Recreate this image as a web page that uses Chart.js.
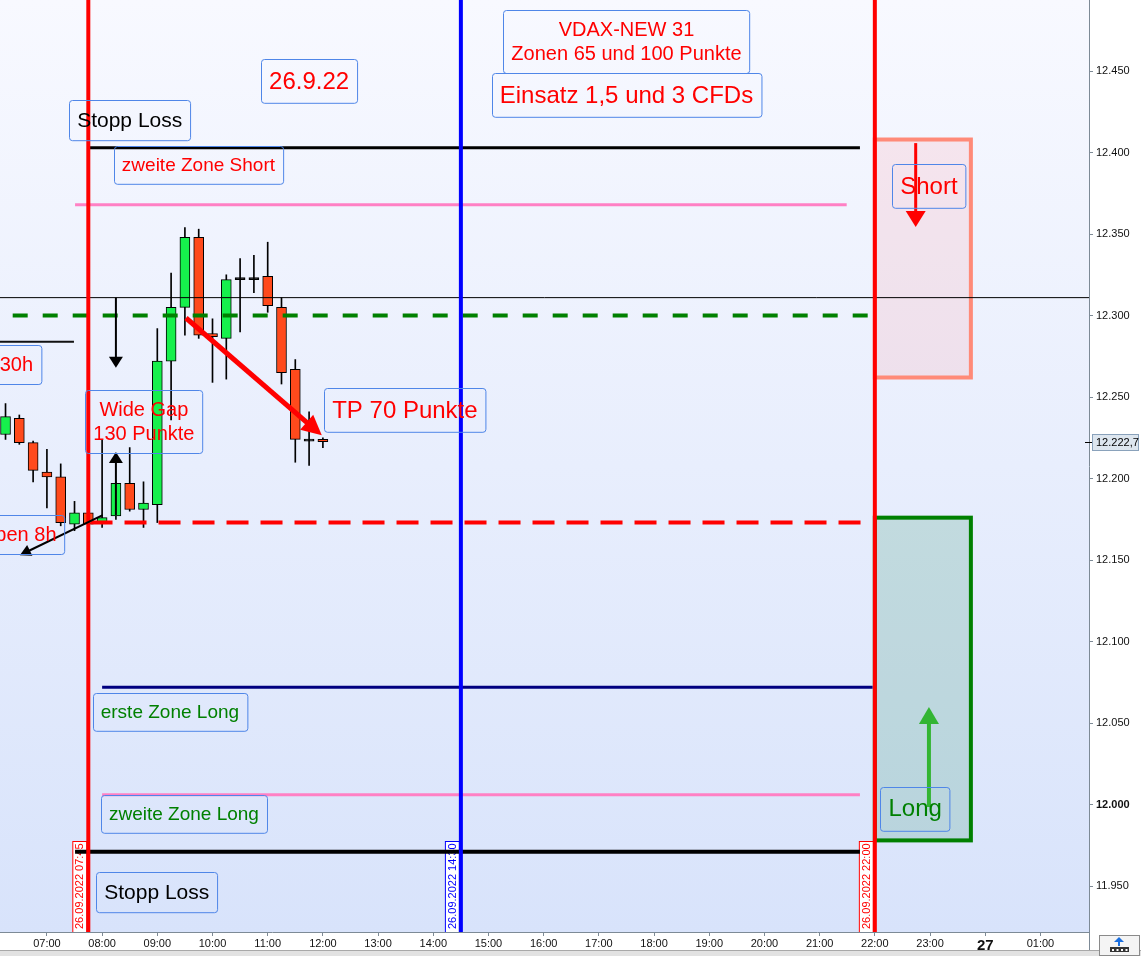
<!DOCTYPE html>
<html>
<head>
<meta charset="utf-8">
<script src="https://cdn.jsdelivr.net/npm/chart.js@4.4.1/dist/chart.umd.min.js"></script>
<style>
  html, body { margin: 0; padding: 0; background: #fff; overflow: hidden; }
  #wrap { width: 1141px; height: 956px; }
</style>
</head>
<body>
<div id="wrap"><canvas id="chart" width="1141" height="956"></canvas></div>
<script>
// 15-Minuten-Kerzen vom 26.09.2022 (Zeit in Stunden)
const candleTimes = [6.25, 6.5, 6.75, 7.0, 7.25, 7.5, 7.75, 8.0, 8.25, 8.5, 8.75, 9.0, 9.25, 9.5, 9.75, 10.0, 10.25, 10.5, 10.75, 11.0, 11.25, 11.5, 11.75, 12.0];
const opens  = [12227, 12237, 12222, 12204, 12201, 12172, 12179, 12173, 12177, 12197, 12181, 12184, 12272, 12305, 12348, 12289, 12286, 12322, 12322, 12324, 12305, 12267, 12223, 12224];
const highs  = [12246, 12239, 12223, 12218, 12209, 12186, 12180, 12224, 12198, 12219, 12198, 12292, 12326, 12354, 12353, 12298, 12325, 12335, 12337, 12345, 12311, 12273, 12241, 12225];
const lows   = [12224, 12221, 12198, 12182, 12171, 12168, 12170, 12170, 12175, 12180, 12170, 12173, 12236, 12288, 12286, 12259, 12261, 12290, 12314, 12302, 12258, 12210, 12208, 12219];
const closes = [12238, 12222, 12205, 12201, 12173, 12179, 12172, 12176, 12197, 12181, 12185, 12272, 12305, 12348, 12288, 12287, 12322, 12322, 12322, 12306, 12265, 12224, 12223, 12222.7];
const lastPrice = 12222.7;

// Achsen
const hourTicks  = [7, 8, 9, 10, 11, 12, 13, 14, 15, 16, 17, 18, 19, 20, 21, 22, 23, 24, 25];
const hourLabels = ['07:00', '08:00', '09:00', '10:00', '11:00', '12:00', '13:00', '14:00', '15:00', '16:00', '17:00', '18:00', '19:00', '20:00', '21:00', '22:00', '23:00', '27', '01:00'];
const priceTicks = [11950, 12000, 12050, 12100, 12150, 12200, 12250, 12300, 12350, 12400, 12450];
const xMin = 6.15, xMax = 25.88;
const yMin = 11921.8, yMax = 12493.6;

// horizontale Linien: Preis, von, bis
const levelPrices = [12403, 12368, 12311, 12300, 12284, 12173, 12072, 12006, 11971];
const levelStart  = [7.76, 7.51, 6.15, 6.38, 6.15, 7.79, 8.0, 8.0, 7.51];
const levelEnd    = [21.73, 21.49, 25.88, 21.91, 7.49, 21.91, 21.96, 21.73, 21.73];

// senkrechte Linien
const markerTimes  = [7.75, 14.5, 22.0];
const markerLabels = ['26.09.2022 07:45', '26.09.2022 14:30', '26.09.2022 22:00'];

// Zonen: von, bis, unten, oben
const shortZone = [22.0, 23.74, 12262, 12408];
const longZone  = [22.0, 23.74, 11978, 12176];

// Pfeile: t1, p1, t2, p2
const arrows = [
  [9.52, 12298.5, 11.98, 12226.5],
  [8.25, 12311, 8.25, 12268],
  [8.25, 12177.6, 8.25, 12216.3],
  [8.01, 12177.6, 6.51, 12153],
  [22.74, 12405.8, 22.74, 12354.3],
  [22.98, 11998.5, 22.98, 12059.8]
];

// Textfelder
const noteTexts = [
  ['26.9.22'], ['VDAX-NEW 31', 'Zonen 65 und 100 Punkte'], ['Einsatz 1,5 und 3 CFDs'],
  ['Stopp Loss'], ['zweite Zone Short'], ['Short'], ['30h'], ['Wide Gap', '130 Punkte'],
  ['TP 70 Punkte'], ['pen 8h'], ['erste Zone Long'], ['zweite Zone Long'], ['Long'], ['Stopp Loss']
];
const noteTimes  = [11.75, 17.5, 17.5, 8.5, 9.745, 22.98, 6.447, 8.757, 13.486, 6.62, 9.228, 9.482, 22.73, 8.99];
const notePrices = [12443.9, 12468.1, 12435.3, 12419.9, 12392.3, 12379.4, 12270.2, 12235, 12242, 12165.6, 12056.7, 11994.5, 11997.5, 11946.3];

const FONT = '"Liberation Sans", Arial, sans-serif';
const RED = '#ff0000', GREEN = '#008000', BLACK = '#000000';

const levelStyles = [
  { color: BLACK, width: 3 },
  { color: '#ff80c4', width: 3 },
  { color: BLACK, width: 1 },
  { color: '#008000', width: 4, dash: [15, 15] },
  { color: '#111', width: 2 },
  { color: RED, width: 4, dash: [22, 12] },
  { color: '#000080', width: 3 },
  { color: '#ff80c4', width: 3 },
  { color: BLACK, width: 4 }
];
const markerColors = [RED, '#0000ff', RED];
const arrowStyles = [
  { color: RED, width: 5, len: 20, half: 10 },
  { color: BLACK, width: 2, len: 11, half: 7 },
  { color: BLACK, width: 2, len: 11, half: 7 },
  { color: BLACK, width: 2, len: 11, half: 6 },
  { color: RED, width: 3, len: 16, half: 10 },
  { color: '#33b533', width: 4, len: 17, half: 10 }
];
const noteStyles = [
  { size: 24, color: RED }, { size: 20, color: RED }, { size: 24, color: RED },
  { size: 21, color: BLACK }, { size: 19, color: RED }, { size: 24, color: RED },
  { size: 20, color: RED }, { size: 20, color: RED }, { size: 24, color: RED },
  { size: 20, color: RED }, { size: 19, color: GREEN }, { size: 19, color: GREEN },
  { size: 24, color: GREEN }, { size: 21, color: BLACK }
];

const fmtPrice = v => {
  const s = String(Math.round(v));
  return s.slice(0, s.length - 3) + '.' + s.slice(-3);
};

// Datensätze (Doji schwarz)
const bodyColors = candleTimes.map((t, i) =>
  closes[i] === opens[i] ? '#000' : (closes[i] > opens[i] ? '#16f04c' : '#ff4a1c'));

const datasets = [
  {
    type: 'bar', label: 'Docht', order: 11, grouped: false,
    data: candleTimes.map((t, i) => ({ x: t, y: [lows[i], highs[i]] })),
    backgroundColor: '#000', borderWidth: 0, barThickness: 1
  },
  {
    type: 'bar', label: 'Körper', order: 10, grouped: false,
    data: candleTimes.map((t, i) => ({ x: t, y: [opens[i], closes[i]] })),
    backgroundColor: bodyColors, borderColor: '#000', borderWidth: 1,
    borderSkipped: false, barThickness: 10, minBarLength: 2
  }
];

levelPrices.forEach((p, i) => {
  datasets.push({
    type: 'line', order: 2,
    data: [{ x: levelStart[i], y: p }, { x: levelEnd[i], y: p }],
    borderColor: levelStyles[i].color, borderWidth: levelStyles[i].width,
    borderDash: levelStyles[i].dash || [], pointRadius: 0, fill: false, tension: 0,
    borderCapStyle: 'butt'
  });
});

markerTimes.forEach((t, i) => {
  datasets.push({
    type: 'line', order: 1,
    data: [{ x: t, y: yMin }, { x: t, y: yMax }],
    borderColor: markerColors[i], borderWidth: 4, pointRadius: 0, fill: false
  });
});

// Hintergrund, Zonen und Datumsfelder
const backPlugin = {
  id: 'back',
  beforeDraw(chart) {
    const { ctx, chartArea: a } = chart;
    ctx.save();
    ctx.fillStyle = '#fff';
    ctx.fillRect(0, 0, chart.width, chart.height);
    const g = ctx.createLinearGradient(0, a.top, 0, a.bottom);
    g.addColorStop(0, '#f8f9ff');
    g.addColorStop(1, '#d8e3fb');
    ctx.fillStyle = g;
    ctx.fillRect(a.left, a.top, a.right - a.left, a.bottom - a.top);
    ctx.restore();
  },
  beforeDatasetsDraw(chart) {
    const { ctx, scales: { x, y }, chartArea: a } = chart;
    ctx.save();
    ctx.beginPath();
    ctx.rect(a.left, a.top, a.right - a.left, a.bottom - a.top);
    ctx.clip();

    const zone = (z, fill, stroke) => {
      const x1 = x.getPixelForValue(z[0]), x2 = x.getPixelForValue(z[1]);
      const y1 = y.getPixelForValue(z[3]), y2 = y.getPixelForValue(z[2]);
      ctx.fillStyle = fill;
      ctx.fillRect(x1, y1, x2 - x1, y2 - y1);
      ctx.strokeStyle = stroke;
      ctx.lineWidth = 4;
      ctx.strokeRect(x1, y1, x2 - x1, y2 - y1);
    };
    zone(shortZone, 'rgba(255,140,150,0.16)', '#ff8a78');
    zone(longZone, 'rgba(20,130,80,0.17)', '#008000');

    // senkrechte Datumsfelder an den Linien
    ctx.font = '11px ' + FONT;
    markerTimes.forEach((t, i) => {
      const px = x.getPixelForValue(t);
      const bx = px - 16, bw = 14, bh = 91, by = a.bottom - bh;
      ctx.fillStyle = '#fff';
      ctx.fillRect(bx, by, bw, bh);
      ctx.strokeStyle = markerColors[i];
      ctx.lineWidth = 1;
      ctx.strokeRect(bx + 0.5, by + 0.5, bw, bh);
      ctx.save();
      ctx.translate(bx + bw / 2 + 4, a.bottom - 3);
      ctx.rotate(-Math.PI / 2);
      ctx.fillStyle = markerColors[i];
      ctx.textAlign = 'left';
      ctx.fillText(markerLabels[i], 0, 0);
      ctx.restore();
    });
    ctx.restore();
  },
  afterDatasetsDraw(chart) {
    const { ctx, scales: { x, y }, chartArea: a } = chart;
    ctx.save();
    ctx.beginPath();
    ctx.rect(a.left, a.top, a.right - a.left, a.bottom - a.top);
    ctx.clip();

    arrows.forEach((ar, i) => {
      const st = arrowStyles[i];
      const x1 = x.getPixelForValue(ar[0]), y1 = y.getPixelForValue(ar[1]);
      const x2 = x.getPixelForValue(ar[2]), y2 = y.getPixelForValue(ar[3]);
      const ang = Math.atan2(y2 - y1, x2 - x1);
      const bx = x2 - Math.cos(ang) * st.len, by = y2 - Math.sin(ang) * st.len;
      ctx.strokeStyle = st.color;
      ctx.fillStyle = st.color;
      ctx.lineWidth = st.width;
      ctx.beginPath();
      ctx.moveTo(x1, y1);
      ctx.lineTo(bx + Math.cos(ang) * 2, by + Math.sin(ang) * 2);
      ctx.stroke();
      ctx.beginPath();
      ctx.moveTo(x2, y2);
      ctx.lineTo(bx + Math.sin(ang) * st.half, by - Math.cos(ang) * st.half);
      ctx.lineTo(bx - Math.sin(ang) * st.half, by + Math.cos(ang) * st.half);
      ctx.closePath();
      ctx.fill();
    });

    noteTexts.forEach((lines, i) => {
      const st = noteStyles[i];
      ctx.font = st.size + 'px ' + FONT;
      const lh = st.size * 1.2;
      const tw = Math.max(...lines.map(l => ctx.measureText(l).width));
      const bw = tw + 16, bh = lines.length * lh + 15;
      const cx = x.getPixelForValue(noteTimes[i]), cy = y.getPixelForValue(notePrices[i]);
      const bx = Math.round(cx - bw / 2) + 0.5, by = Math.round(cy - bh / 2) + 0.5;
      ctx.strokeStyle = '#4f86e8';
      ctx.lineWidth = 1;
      ctx.beginPath();
      ctx.roundRect(bx, by, bw, bh, 3);
      ctx.stroke();
      ctx.fillStyle = st.color;
      ctx.textAlign = 'center';
      ctx.textBaseline = 'middle';
      lines.forEach((l, k) => {
        ctx.fillText(l, cx, cy + (k - (lines.length - 1) / 2) * lh + 1);
      });
    });
    ctx.restore();
  },
  afterDraw(chart) {
    const { ctx, scales: { y }, chartArea: a } = chart;
    ctx.save();
    // Kursfeld an der Preisachse
    const yy = Math.round(y.getPixelForValue(lastPrice));
    ctx.strokeStyle = '#000';
    ctx.lineWidth = 1;
    ctx.beginPath();
    ctx.moveTo(a.right - 4, yy + 0.5);
    ctx.lineTo(a.right + 3, yy + 0.5);
    ctx.stroke();
    ctx.fillStyle = '#dde6ef';
    ctx.fillRect(a.right + 3, yy - 8, 47, 17);
    ctx.strokeStyle = '#8aa2bb';
    ctx.strokeRect(a.right + 3.5, yy - 7.5, 46, 16);
    ctx.fillStyle = '#000';
    ctx.font = '11px ' + FONT;
    ctx.textBaseline = 'middle';
    ctx.fillText('12.222,7', a.right + 7, yy + 1);

    // Leiste unten
    ctx.fillStyle = '#e2e2e2';
    ctx.fillRect(0, 951, chart.width, 5);
    ctx.fillStyle = '#a8a8a8';
    ctx.fillRect(0, 950, chart.width, 1);
    ctx.fillStyle = '#7d8a96';
    ctx.fillRect(a.right, a.bottom, 1, 18);

    // kleines Symbol rechts unten
    ctx.fillStyle = '#f4f4f4';
    ctx.fillRect(1099, 935, 40, 20);
    ctx.strokeStyle = '#8a8a8a';
    ctx.strokeRect(1099.5, 935.5, 40, 20);
    ctx.fillStyle = '#1a6fe0';
    ctx.beginPath();
    ctx.moveTo(1119, 937); ctx.lineTo(1124, 942); ctx.lineTo(1114, 942); ctx.closePath(); ctx.fill();
    ctx.fillRect(1118, 942, 2, 4);
    ctx.fillStyle = '#333';
    ctx.fillRect(1110, 947, 19, 5);
    ctx.fillStyle = '#fff';
    for (let k = 0; k < 4; k++) ctx.fillRect(1112 + k * 4.5, 949, 2, 2);
    ctx.restore();
  }
};

Chart.defaults.font.family = FONT;

new Chart(document.getElementById('chart'), {
  type: 'bar',
  data: { datasets },
  options: {
    responsive: false,
    animation: false,
    events: [],
    layout: { padding: 0 },
    plugins: { legend: { display: false }, tooltip: { enabled: false }, title: { display: false } },
    scales: {
      x: {
        type: 'linear', min: xMin, max: xMax, offset: false,
        afterBuildTicks: s => { s.ticks = hourTicks.map(v => ({ value: v })); },
        afterFit: s => { s.height = 24; s.paddingLeft = 0; s.paddingRight = 0; },
        grid: { drawOnChartArea: false, drawTicks: true, tickLength: 4, color: '#7d8a96', offset: false },
        border: { display: true, color: '#7d8a96' },
        ticks: {
          autoSkip: false, maxRotation: 0, minRotation: 0, padding: 1, color: '#111',
          font: c => (c.tick && c.tick.value === 24)
            ? { family: FONT, size: 15, weight: 'bold' }
            : { family: FONT, size: 11 },
          callback: (v, i) => hourLabels[i]
        }
      },
      y: {
        type: 'linear', position: 'right', min: yMin, max: yMax,
        afterBuildTicks: s => { s.ticks = priceTicks.map(v => ({ value: v })); },
        afterFit: s => { s.width = 52; s.paddingTop = 0; s.paddingBottom = 0; },
        grid: { drawOnChartArea: false, drawTicks: true, tickLength: 4, color: '#7d8a96' },
        border: { display: true, color: '#7d8a96' },
        ticks: {
          padding: 3, color: '#111',
          font: c => (c.tick && c.tick.value === 12000)
            ? { family: FONT, size: 11, weight: 'bold' }
            : { family: FONT, size: 11 },
          callback: v => fmtPrice(v)
        }
      }
    }
  },
  plugins: [backPlugin]
});
</script>
</body>
</html>
